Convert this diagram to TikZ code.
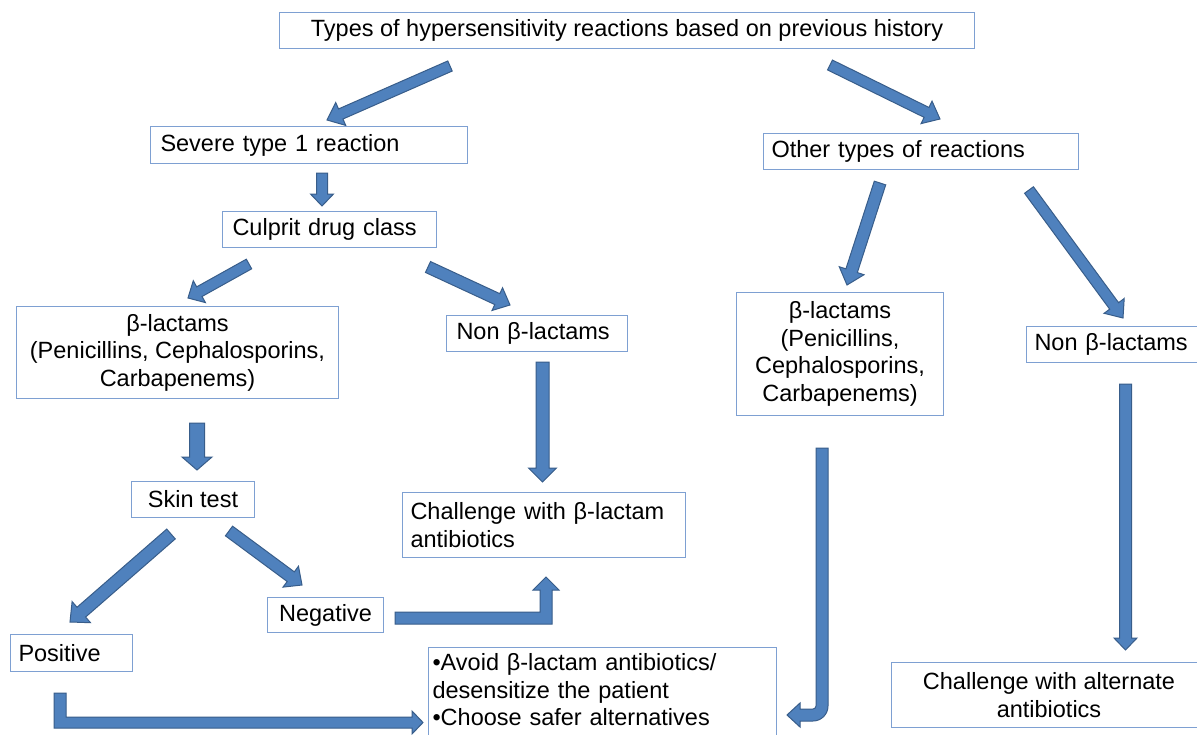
\documentclass[tikz,border=0pt]{standalone}
\usepackage{fontspec}
\setmainfont{Liberation Sans}
\usetikzlibrary{calc}
\definecolor{boxc}{RGB}{126,160,210}
\definecolor{arrf}{RGB}{79,129,189}
\definecolor{arrl}{RGB}{56,93,138}
\tikzset{
  box/.style={draw=boxc, line width=1pt, fill=white, anchor=north west, inner ysep=0pt,
    font=\fontsize{23.5pt}{27.5pt}\selectfont, text=black},
  ctr/.style 2 args={minimum width=#1, minimum height=#2, inner xsep=0pt, align=center},
  lft/.style n args={3}{minimum width=#1, minimum height=#2, inner xsep=#3, text width=#1-2*#3, align=left},
  arr/.style={fill=arrf, draw=arrl, line width=1pt, line join=miter}
}
\newcommand\barrow[5]{%
  \path[arr]
   ($(#1)!#3!-90:(#2)$) --
   ($(#2)!#5!(#1)!#3!90:(#1)$) --
   ($(#2)!#5!(#1)!#4!90:(#1)$) --
   (#2) --
   ($(#2)!#5!(#1)!#4!-90:(#1)$) --
   ($(#2)!#5!(#1)!#3!-90:(#1)$) --
   ($(#1)!#3!90:(#2)$) -- cycle;}
\begin{document}
\begin{tikzpicture}[x=1pt, y=-1pt]
\useasboundingbox (0,0) rectangle (1197,734);
\fill[white] (0,0) rectangle (1197,734);
\clip (0,0) rectangle (1197,734);

% boxes
\node[box, ctr={695pt}{36pt}] (top) at (279,12) {Types of hypersensitivity reactions based on previous history};
\node[box, lft={317pt}{37pt}{10pt}] (severe) at (150,126) {Severe type 1 reaction};
\node[box, lft={214pt}{36pt}{10pt}] (culprit) at (222,211) {Culprit drug class};
\node[box, ctr={322pt}{92pt}] (blL) at (16,306) {β-lactams\\(Penicillins, Cephalosporins,\\Carbapenems)};
\node[box, lft={181pt}{36pt}{10pt}] (nonL) at (446,315) {Non β-lactams};
\node[box, ctr={123pt}{36pt}] (skin) at (131,481) {Skin test};
\node[box, lft={283pt}{65pt}{8pt}] (chalB) at (402,492) {Challenge with β-lactam\\antibiotics};
\node[box, ctr={116pt}{35pt}] (neg) at (267,597) {Negative};
\node[box, lft={122pt}{37pt}{8pt}] (pos) at (10,634) {Positive};
\node[box, text width=340pt, inner xsep=4pt, inner ysep=6pt, align=left] (avoid) at (428,647)
  {•Avoid β-lactam antibiotics/\\desensitize the patient\\•Choose safer alternatives\rule[-20pt]{0pt}{0pt}};
\node[box, lft={315pt}{36pt}{8pt}] (other) at (763,133) {Other types of reactions};
\node[box, ctr={207pt}{123pt}] (blR) at (736,292) {β-lactams\\(Penicillins,\\Cephalosporins,\\Carbapenems)};
\node[box, lft={181pt}{36pt}{8pt}] (nonR) at (1026,326) {Non β-lactams};
\node[box, ctr={315pt}{65pt}] (chalAlt) at (891,662) {Challenge with alternate\\antibiotics};

% arrow end points
\coordinate (a1s) at (450,66);   \coordinate (a1e) at (327,120);
\coordinate (a2s) at (830,65);   \coordinate (a2e) at (940,119);
\coordinate (a3s) at (322,173);  \coordinate (a3e) at (322,206);
\coordinate (a4s) at (249,264);  \coordinate (a4e) at (188,298);
\coordinate (a5s) at (428,267);  \coordinate (a5e) at (510,305);
\coordinate (a6s) at (197,423);  \coordinate (a6e) at (197,470);
\coordinate (a7s) at (542.5,362);\coordinate (a7e) at (542.5,482);
\coordinate (a8s) at (171,534);  \coordinate (a8e) at (70,622);
\coordinate (a9s) at (229,531);  \coordinate (a9e) at (302,585);
\coordinate (a12s) at (880,183); \coordinate (a12e) at (847,285);
\coordinate (a13s) at (1029,190);\coordinate (a13e) at (1123,318);
\coordinate (a15s) at (1125.5,384); \coordinate (a15e) at (1125.5,650);

\barrow{a1s}{a1e}{5.5pt}{12.5pt}{15pt}
\barrow{a2s}{a2e}{5.5pt}{12.5pt}{15pt}
\barrow{a3s}{a3e}{5.5pt}{11.5pt}{12pt}
\barrow{a4s}{a4e}{5.5pt}{12.5pt}{13pt}
\barrow{a5s}{a5e}{6pt}{12.5pt}{14pt}
\barrow{a6s}{a6e}{7.5pt}{15pt}{13pt}
\barrow{a7s}{a7e}{6.5pt}{14pt}{14pt}
\barrow{a8s}{a8e}{6.5pt}{14pt}{15pt}
\barrow{a9s}{a9e}{6pt}{13pt}{14pt}
\barrow{a12s}{a12e}{6pt}{13pt}{15pt}
\barrow{a13s}{a13e}{5.5pt}{12.5pt}{15pt}
\barrow{a15s}{a15e}{6pt}{11.5pt}{12pt}

% elbow: Negative -> Challenge with beta-lactam
\path[arr] (395,612) -- (540,612) -- (540,590) -- (533,590) -- (546,577) -- (559,590)
  -- (552,590) -- (552,624) -- (395,624) -- cycle;
% elbow: Positive -> Avoid
\path[arr] (54,693) -- (66,693) -- (66,717) -- (412,717) -- (412,711) -- (423,722.5)
  -- (412,734) -- (412,728) -- (54,728) -- cycle;
% curved: beta-lactams (right) -> Avoid
\path[arr] (816,448) -- (828,448) -- (828,706) arc[start angle=0, end angle=-90, radius=15pt]
  -- (800,721) -- (800,727) -- (787,715) -- (800,703) -- (800,709) -- (813,709)
  arc[start angle=-90, end angle=0, radius=3pt] -- cycle;
\end{tikzpicture}
\end{document}
